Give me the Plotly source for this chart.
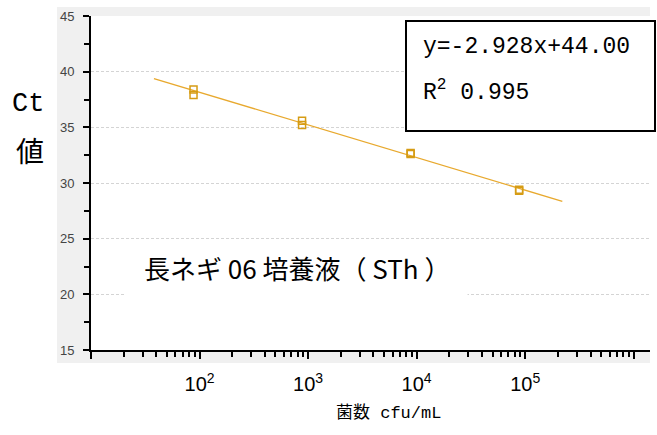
import numpy as np
import plotly.graph_objects as go

# Standard-curve measurements: cell count (cfu/mL) vs. Ct value
cfu = [88, 88, 880, 880, 8800, 8800, 88000, 88000]
ct = [38.4, 37.9, 35.6, 35.2, 32.7, 32.6, 29.4, 29.3]

# Regression reported on the chart: Ct = slope * log10(cfu) + intercept
slope = -2.928
intercept = 44.00
r_squared = 0.995
fit_range = [38, 220000]

x_major = [10, 100, 1000, 10000, 100000, 1000000]
x_major_text = ["", "10<sup>2</sup>", "10<sup>3</sup>", "10<sup>4</sup>", "10<sup>5</sup>", ""]
x_minor = [m * 10 ** d for d in range(1, 6) for m in range(2, 10)] + [2000000]

sample_label = "長ネギ 06 培養液（ STh ）"
x_title = "菌数 cfu/mL"
y_title_top = "Ct"
y_title_bottom = "値"

W, H = 657, 435
L, R, T, B = 91, 7, 16, 85
pw, ph = W - L - R, H - T - B

def px(xp):
    return (xp - L) / pw

def py(yp):
    return 1 - (yp - T) / ph

fit_x = np.logspace(np.log10(fit_range[0]), np.log10(fit_range[1]), 50)
fit_y = slope * np.log10(fit_x) + intercept

fig = go.Figure()
fig.add_trace(go.Scatter(x=fit_x, y=fit_y, mode="lines",
                         line=dict(color="#e8a92e", width=1.3),
                         hoverinfo="skip", showlegend=False))
fig.add_trace(go.Scatter(x=cfu, y=ct, mode="markers",
                         marker=dict(symbol="square-open", size=7,
                                     color="#d69c14", line=dict(width=1.5)),
                         showlegend=False))

tick_font = dict(family="Liberation Sans, Arial", size=13, color="#444")

fig.update_xaxes(type="log", range=[1, 6.15],
                 showline=True, linecolor="black", linewidth=2,
                 showgrid=False, zeroline=False,
                 tickmode="array", tickvals=x_major, ticktext=x_major_text,
                 ticks="outside", ticklen=7, tickwidth=1.5, tickcolor="black",
                 tickfont=dict(family="Liberation Sans, Arial", size=20, color="black"),
                 ticklabelstandoff=8,
                 minor=dict(tickmode="array", tickvals=x_minor, ticks="outside",
                            ticklen=5, tickwidth=1.5, tickcolor="black",
                            showgrid=False))
fig.update_yaxes(range=[15, 45], dtick=5, tick0=15,
                 showline=True, linecolor="black", linewidth=2,
                 zeroline=False, showgrid=True, gridcolor="#d4d4d4",
                 griddash="3px,2px", gridwidth=1,
                 ticks="outside", ticklen=6, tickwidth=1.5, tickcolor="black",
                 tickfont=tick_font, ticklabelstandoff=6,
                 minor=dict(dtick=2.5, ticks="outside", ticklen=5, tickwidth=1.5,
                            tickcolor="black", showgrid=False))

shapes = [
    # grey panel behind the axes
    dict(type="rect", xref="paper", yref="paper", x0=px(57), x1=px(650),
         y0=py(363), y1=py(7), fillcolor="#f0f0f0", line=dict(width=0),
         layer="below"),
    # white plotting area
    dict(type="rect", xref="paper", yref="paper", x0=0, x1=1, y0=0, y1=1,
         fillcolor="white", line=dict(width=0), layer="below"),
    # regression box
    dict(type="rect", xref="paper", yref="paper", x0=px(406), x1=px(655),
         y0=py(131), y1=py(21), fillcolor="white",
         line=dict(color="black", width=2), layer="above"),
]

mono = "Liberation Mono, Noto Sans CJK JP"
annotations = [
    # white band behind the sample label, interrupting the grid line
    dict(text=" ", xref="paper", yref="paper", x=px(125), y=py(293),
         xanchor="left", yanchor="middle", showarrow=False,
         width=341, height=12, bgcolor="white", borderpad=0,
         font=dict(size=6)),
    dict(text=f"y={slope:.3f}x+{intercept:.2f}", xref="paper", yref="paper",
         x=px(421), y=py(47), xanchor="left", yanchor="middle", showarrow=False,
         font=dict(family=mono, size=23, color="black")),
    dict(text=f"R<sup>2</sup> {r_squared:.3f}", xref="paper", yref="paper",
         x=px(421), y=py(91), xanchor="left", yanchor="middle", showarrow=False,
         font=dict(family=mono, size=23, color="black")),
    dict(text=sample_label, xref="paper", yref="paper",
         x=px(142), y=py(267), xanchor="left", yanchor="middle", showarrow=False,
         font=dict(family="Noto Sans CJK JP", size=26, color="black")),
    dict(text=x_title, xref="paper", yref="paper",
         x=px(388), y=py(413), xanchor="center", yanchor="middle", showarrow=False,
         font=dict(family=mono, size=17, color="black")),
    dict(text=y_title_top, xref="paper", yref="paper",
         x=px(28), y=py(104), xanchor="center", yanchor="middle", showarrow=False,
         font=dict(family="Liberation Mono", size=27, color="black")),
    dict(text=y_title_bottom, xref="paper", yref="paper",
         x=px(30), y=py(150), xanchor="center", yanchor="middle", showarrow=False,
         font=dict(family="Noto Sans CJK JP", size=28, color="black")),
]

fig.update_layout(width=W, height=H, margin=dict(l=L, r=R, t=T, b=B),
                  paper_bgcolor="white", plot_bgcolor="white",
                  shapes=shapes, annotations=annotations, showlegend=False)

fig.write_html("out.html")
